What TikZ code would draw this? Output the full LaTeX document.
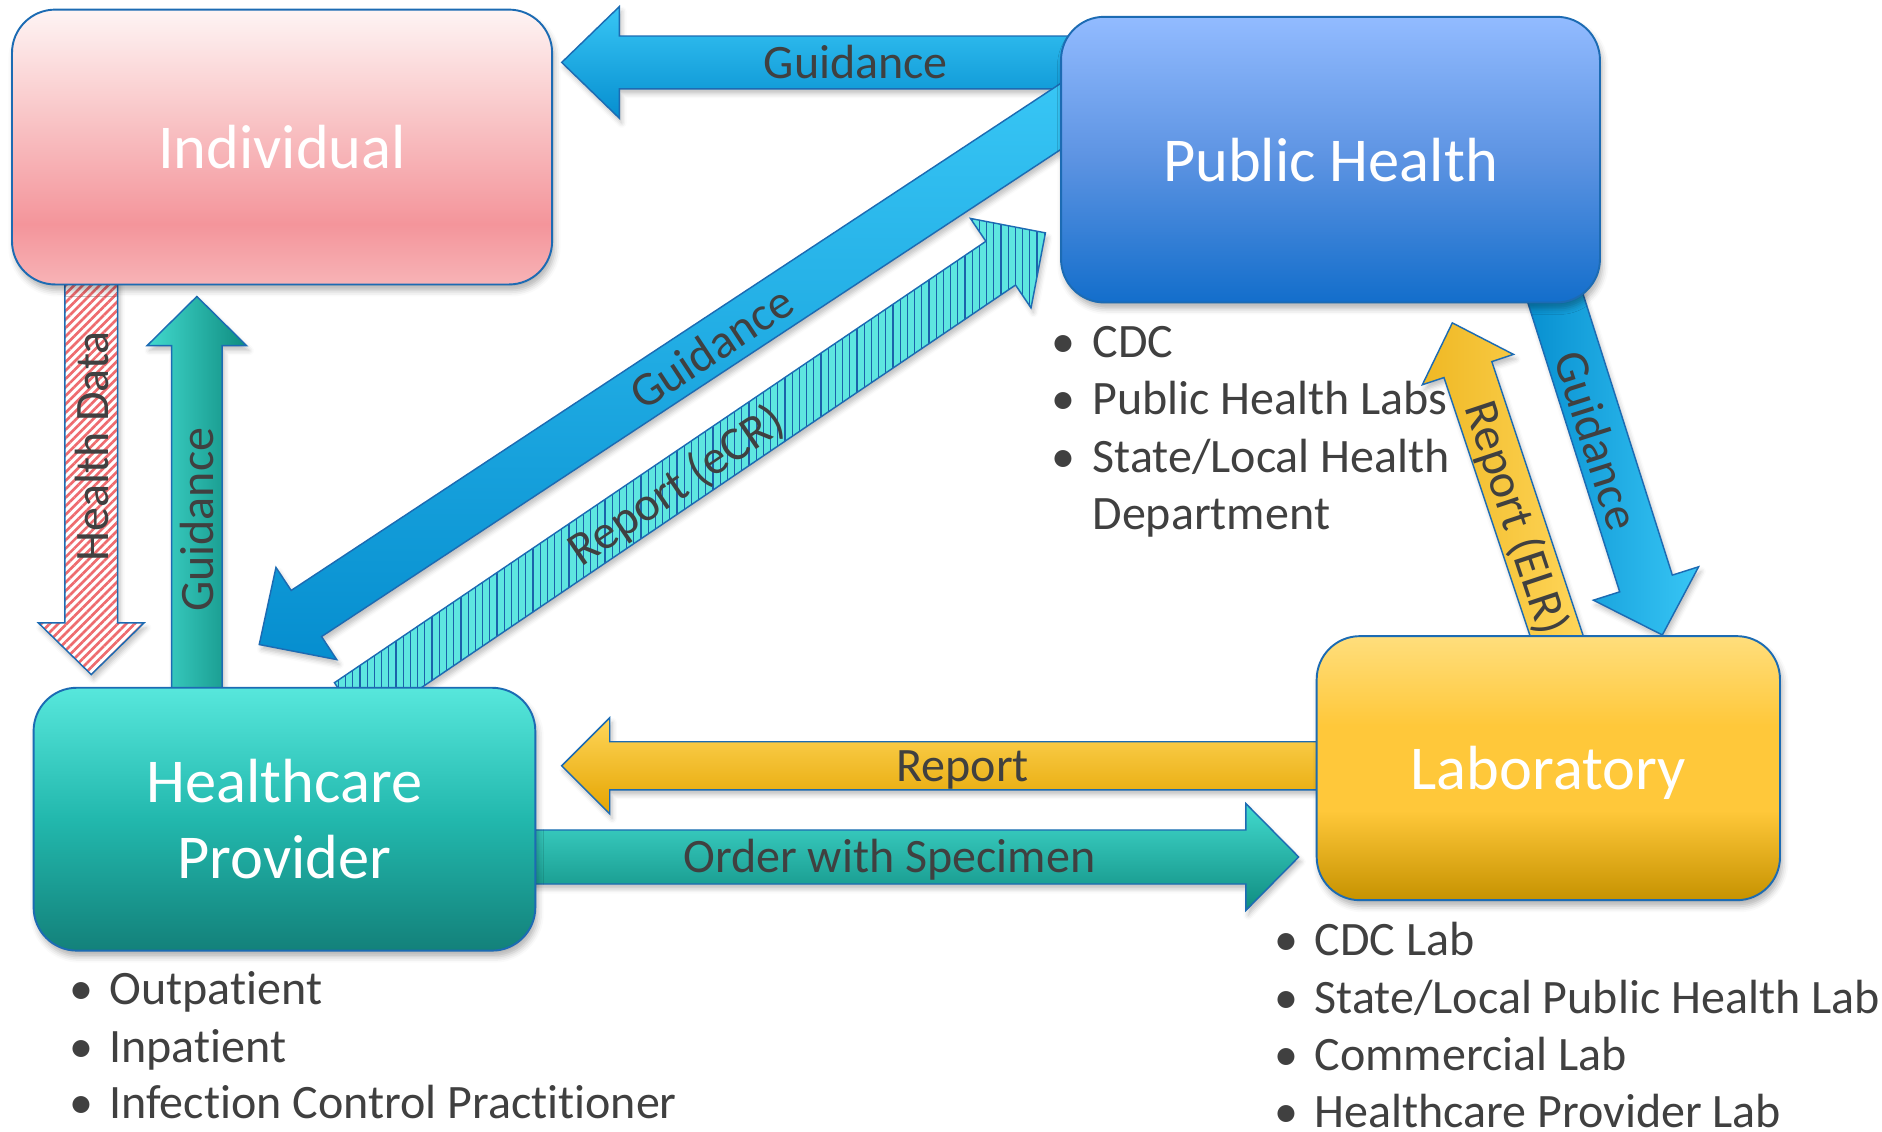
\documentclass[tikz,border=0pt]{standalone}
\usepackage{fontspec}
\setmainfont{Carlito}[Ligatures=NoCommon]
\usetikzlibrary{calc,patterns.meta,shadows.blur}

\definecolor{edgeblue}{HTML}{1C6BB3}
\definecolor{labelgray}{HTML}{404040}
\definecolor{indT}{HTML}{FEF4F4}
\definecolor{indM}{HTML}{FAD0D1}
\definecolor{indD}{HTML}{F4959B}
\definecolor{indB}{HTML}{F7B3B6}
\definecolor{phT}{HTML}{92BBFF}
\definecolor{phM}{HTML}{5C93E2}
\definecolor{phB}{HTML}{136ECB}
\definecolor{hpT}{HTML}{57E7DC}
\definecolor{hpM}{HTML}{22B8AD}
\definecolor{hpB}{HTML}{13817A}
\definecolor{labT}{HTML}{FFDE7C}
\definecolor{labM}{HTML}{FFC83A}
\definecolor{labB}{HTML}{C69200}
\definecolor{blueL}{HTML}{38C6F5}
\definecolor{blueD}{HTML}{068ECF}
\definecolor{tealL}{HTML}{42DACE}
\definecolor{tealD}{HTML}{0F8C80}
\definecolor{yelL}{HTML}{FFD65A}
\definecolor{yelD}{HTML}{E4A400}
\definecolor{hdred}{HTML}{EE6B6E}
\definecolor{ecrfill}{HTML}{5EE6E0}
\definecolor{ecrline}{HTML}{1B62AA}

\pgfdeclareverticalshading{indshade}{100bp}{color(0bp)=(indB); color(25bp)=(indB); color(36bp)=(indD); color(60bp)=(indM); color(75bp)=(indT); color(100bp)=(indT)}
\pgfdeclareverticalshading{phshade}{100bp}{color(0bp)=(phB); color(25bp)=(phB); color(50bp)=(phM); color(75bp)=(phT); color(100bp)=(phT)}
\pgfdeclareverticalshading{hpshade}{100bp}{color(0bp)=(hpB); color(25bp)=(hpB); color(50bp)=(hpM); color(75bp)=(hpT); color(100bp)=(hpT)}
\pgfdeclareverticalshading{labshade}{100bp}{color(0bp)=(labB); color(25bp)=(labB); color(42bp)=(labM); color(58bp)=(labM); color(75bp)=(labT); color(100bp)=(labT)}

% #1 style, #2 tail, #3 tip, #4 shaft half width, #5 head half width, #6 head length
\newcommand\blockarrow[6]{%
  \coordinate (bahb) at ($(#3)!#6!(#2)$);
  \path[#1] ($(#2)!#4!90:(#3)$) -- ($(bahb)!#4!-90:(#2)$) -- ($(bahb)!#5!-90:(#2)$)
    -- (#3) -- ($(bahb)!#5!90:(#2)$) -- ($(bahb)!#4!90:(#2)$) -- ($(#2)!#4!-90:(#3)$) -- cycle;
}

\begin{document}
\begin{tikzpicture}[x=1pt,y=-1pt,
  box/.style={draw=edgeblue, line width=1.6pt, rounded corners=36pt, text=white,
    inner sep=0pt, align=center, font=\fontsize{52}{63}\selectfont,
    blur shadow={shadow xshift=2pt,shadow yshift=-5pt,shadow opacity=30,shadow blur radius=5pt}},
  arr/.style={draw=edgeblue, line width=1.2pt,
    blur shadow={shadow xshift=2pt,shadow yshift=-4pt,shadow opacity=25,shadow blur radius=4pt}},
  lbl/.style={text=labelgray, font=\fontsize{40}{48}\selectfont, inner sep=0pt,
    text height=26pt, text depth=0pt},
  bul/.style={text=labelgray, font=\fontsize{40}{48}\selectfont, inner sep=0pt, anchor=base west},
  bdot/.style={text=labelgray, font=\fontsize{40}{48}\selectfont, inner sep=0pt, anchor=base},
]
\useasboundingbox (0,0) rectangle (1568,943);

% arrow end points
\coordinate (g1t) at (905,52);    \coordinate (g1h) at (468,52);
\coordinate (g2t) at (905,83);    \coordinate (g2h) at (216,537);
\coordinate (r1t) at (291,587);   \coordinate (r1h) at (871,194);
\coordinate (g3t) at (164,590);   \coordinate (g3h) at (164,247);
\coordinate (hdt) at (76,215);    \coordinate (hdh) at (76,562);
\coordinate (g4t) at (1290,230);  \coordinate (g4h) at (1385,529);
\coordinate (elt) at (1302,545);  \coordinate (elh) at (1210,269);
\coordinate (rpt) at (1110,638);  \coordinate (rph) at (468,638);
\coordinate (ost) at (430,714);   \coordinate (osh) at (1082,714);

% block arrows
\blockarrow{arr, top color=blueL, bottom color=blueD}{g1t}{g1h}{22pt}{46.5pt}{48pt}
\blockarrow{arr, top color=blueL, bottom color=blueD}{g2t}{g2h}{23pt}{46pt}{47pt}
\blockarrow{arr, preaction={fill=ecrfill}, pattern={Lines[angle=90,distance=6pt,line width=1pt]}, pattern color=ecrline}{r1t}{r1h}{22pt}{45pt}{45pt}
\blockarrow{arr, left color=tealL, right color=tealD}{g3t}{g3h}{21pt}{41.5pt}{41pt}
\blockarrow{arr, preaction={fill=white}, pattern={Lines[angle=45,distance=5pt,line width=2.2pt]}, pattern color=hdred}{hdt}{hdh}{22pt}{44pt}{43pt}
\blockarrow{arr, left color=blueD, right color=blueL}{g4t}{g4h}{23pt}{46pt}{45pt}
\blockarrow{arr, left color=yelD!60!yelL, right color=yelL}{elt}{elh}{21pt}{40pt}{41pt}
\blockarrow{arr, top color=yelL, bottom color=yelD}{rpt}{rph}{20pt}{40pt}{40pt}
\blockarrow{arr, top color=tealL, bottom color=tealD}{ost}{osh}{22.5pt}{44.5pt}{44pt}

% boxes
\node[box, shade, shading=indshade, minimum width=450pt, minimum height=229pt, text height=36pt, text depth=0pt] (ind) at (235,122.5) {Individual};
\node[box, shade, shading=phshade, minimum width=449pt, minimum height=238pt, text height=36pt, text depth=0pt] (ph) at (1108.5,133) {Public Health};
\node[box, shade, shading=hpshade, minimum width=418pt, minimum height=219pt] (hp) at (237,682.5) {Healthcare\\Provider};
\node[box, shade, shading=labshade, minimum width=386pt, minimum height=220pt, text height=36pt, text depth=0pt] (lab) at (1290,640) {Laboratory};

% arrow labels
\node[lbl] (lg1) at (713,52) {Guidance};
\node[lbl, rotate=33.4] (lg2) at (593,290) {Guidance};
\node[lbl, rotate=34.1] (lecr) at (563,404) {Report (eCR)};
\node[lbl, rotate=90] (lhd) at (77,372) {Health Data};
\node[lbl, rotate=90] (lg3) at (164.5,433) {Guidance};
\node[lbl, rotate=-72.4] (lg4) at (1330,367) {Guidance};
\node[lbl, rotate=-71.6] (lelr) at (1264,431) {Report (ELR)};
\node[lbl] (lrp) at (802,638) {Report};
\node[lbl] (los) at (741,714) {Order with Specimen};

% bullet lists
\node[bdot] (phb1) at (886,297.5) {•};
\node[bdot] (phb2) at (886,345.5) {•};
\node[bdot] (phb3) at (886,393.5) {•};
\node[bul] (pht1) at (910,297.5) {CDC};
\node[bul] (pht2) at (910,345.5) {Public Health Labs};
\node[bul] (pht3) at (910,393.5) {State/Local Health};
\node[bul] (pht4) at (910,441.5) {Department};

\node[bdot] (hpb1) at (68,837) {•};
\node[bdot] (hpb2) at (68,885) {•};
\node[bdot] (hpb3) at (68,932) {•};
\node[bul] (hpt1) at (91,837) {Outpatient};
\node[bul] (hpt2) at (91,885) {Inpatient};
\node[bul] (hpt3) at (91,932) {Infection Control Practitioner};

\node[bdot] (lbb1) at (1072,796) {•};
\node[bdot] (lbb2) at (1072,844) {•};
\node[bdot] (lbb3) at (1072,892) {•};
\node[bdot] (lbb4) at (1072,939) {•};
\node[bul] (lbt1) at (1095,796) {CDC Lab};
\node[bul] (lbt2) at (1095,844) {State/Local Public Health Lab};
\node[bul] (lbt3) at (1095,892) {Commercial Lab};
\node[bul] (lbt4) at (1095,939) {Healthcare Provider Lab};
\end{tikzpicture}
\end{document}
